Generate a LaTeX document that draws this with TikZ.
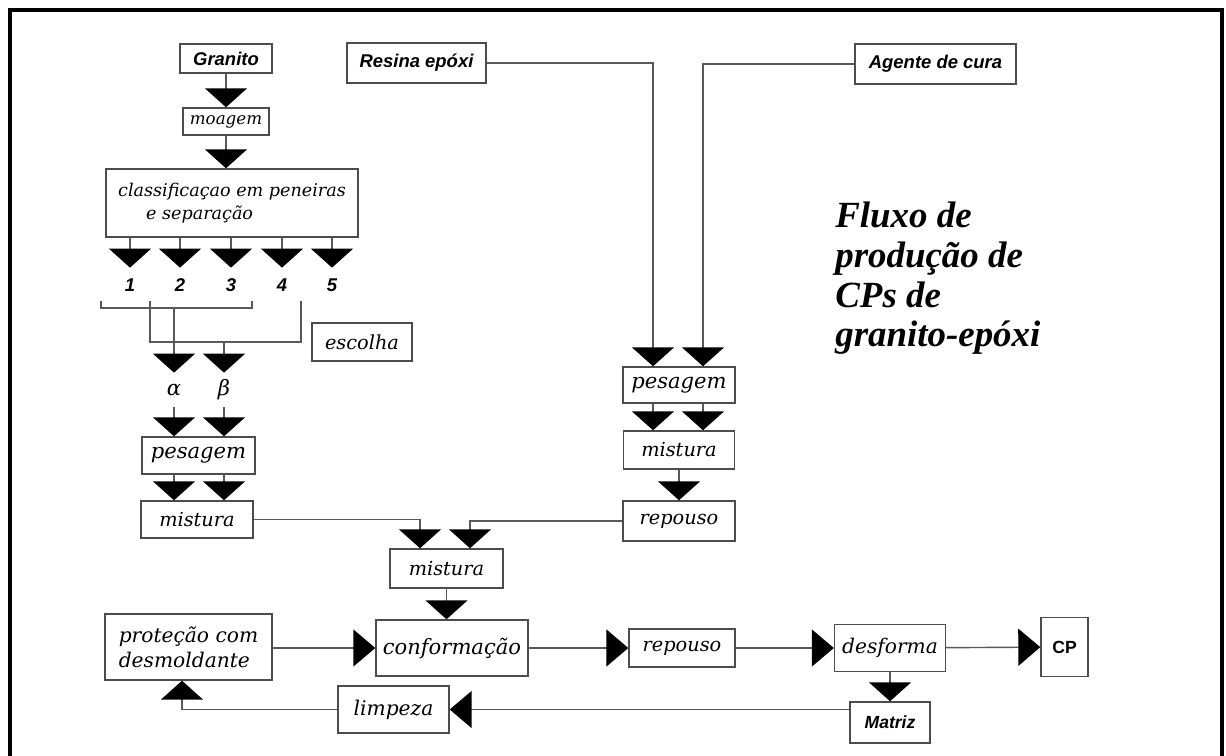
\documentclass[tikz,border=0pt]{standalone}
\usepackage{fontspec}
\usetikzlibrary{arrows.meta}
\newfontfamily\dvserif{DejaVu Serif}
\newfontfamily\arialf{Liberation Sans}
\newfontfamily\tmsfont{Liberation Serif}

\begin{document}
\begin{tikzpicture}[x=0.02cm, y=-0.02cm,
  box/.style={draw=black!70, line width=0.8pt, fill=white, inner sep=1pt, font=\dvserif\itshape\fontsize{11}{13}\selectfont},
  srcbox/.style={box, font=\arialf\bfseries\itshape\fontsize{10.5}{12}\selectfont},
  lbl/.style={inner sep=0pt, minimum height=0.68cm},
  wire/.style={draw=black!65, line width=0.8pt},
  va/.style={wire, -{Triangle[width=0.84cm, length=0.38cm, color=black]}},
  ha/.style={wire, -{Triangle[width=0.74cm, length=0.44cm, color=black]}}]
  \useasboundingbox (0,0) rectangle (1226,756);
  \draw[line width=2.3pt] (10,756) -- (10,10) -- (1222,10) -- (1222,756);
  % granito branch
  \node[srcbox, minimum width=1.84cm, minimum height=0.58cm] (gran) at (226,58.5) {Granito};
  \node[box, minimum width=1.72cm, minimum height=0.54cm, font=\dvserif\itshape\fontsize{9.5}{11}\selectfont] (moag) at (226,121.5) {moagem};
  \node[box, minimum width=5.04cm, minimum height=1.36cm, align=left, font=\dvserif\itshape\fontsize{10}{13}\selectfont] (class) at (232,203) {classificaçao em peneiras\\\hspace*{0.56cm}e separação};
  \draw[va] (gran) -- (moag); \draw[va] (moag) -- (moag |- class.north);
  \foreach \i/\x in {1/130,2/180,3/231,4/282,5/332} {
    \node[lbl, font=\arialf\bfseries\itshape\fontsize{10.5}{12}\selectfont] (n\i) at (\x,285) {\i};
    \draw[va] (class.south -| n\i) -- (n\i);
  }
  \draw[wire] (101,301) |- (252,308) -- (252,301); \draw[wire] (150,301) |- (301,342) -- (301,301);
  \coordinate (ba) at (174,308); \coordinate (bb) at (224,342);
  \node[box, minimum width=2cm, minimum height=0.76cm] (esc) at (362,342) {escolha};
  \node[lbl, font=\dvserif\itshape\fontsize{12}{14}\selectfont] (alpha) at (174,390) {α};
  \node[lbl, font=\dvserif\itshape\fontsize{12}{14}\selectfont] (beta) at (224,390) {β};
  \draw[va] (ba) -- (alpha); \draw[va] (bb) -- (beta);
  \node[box, minimum width=2.26cm, minimum height=0.74cm, font=\dvserif\itshape\fontsize{12}{14}\selectfont] (pesL) at (198.5,455.5) {pesagem};
  \node[box, minimum width=2.24cm, minimum height=0.74cm] (misL) at (197,519.5) {mistura};
  \draw[va] (alpha) -- (alpha |- pesL.north); \draw[va] (beta) -- (beta |- pesL.north);
  \draw[va] (pesL.south -| alpha) -- (misL.north -| alpha); \draw[va] (pesL.south -| beta) -- (misL.north -| beta);
  % resina branch
  \node[srcbox, minimum width=2.78cm, minimum height=0.8cm] (resina) at (416.5,63) {Resina epóxi};
  \node[srcbox, minimum width=3.22cm, minimum height=0.8cm] (agente) at (935.5,64) {Agente de cura};
  \node[box, minimum width=2.24cm, minimum height=0.72cm, font=\dvserif\itshape\fontsize{12}{14}\selectfont] (pesR) at (679,385) {pesagem};
  \node[box, minimum width=2.22cm, minimum height=0.76cm] (misR) at (679,450) {mistura};
  \node[box, minimum width=2.24cm, minimum height=0.8cm] (repR) at (679,521) {repouso};
  \draw[va] (resina.east) -| ([xshift=-0.52cm]pesR.north); \draw[va] (agente.west) -| ([xshift=0.48cm]pesR.north);
  \draw[va] ([xshift=-0.52cm]pesR.south) -- ([xshift=-0.52cm]misR.north); \draw[va] ([xshift=0.48cm]pesR.south) -- ([xshift=0.48cm]misR.north);
  \draw[va] (misR) -- (repR);
  % final line
  \node[box, minimum width=2.26cm, minimum height=0.78cm] (misC) at (446.5,568.5) {mistura};
  \draw[va] (misL.east) -| ([xshift=-0.53cm]misC.north); \draw[va] (repR.west) -| ([xshift=0.47cm]misC.north);
  \node[box, minimum width=3.04cm, minimum height=1.12cm, font=\dvserif\itshape\fontsize{12}{14}\selectfont] (conf) at (452,648) {conformação};
  \node[box, minimum width=3.34cm, minimum height=1.32cm, align=left, font=\dvserif\itshape\fontsize{11.5}{14}\selectfont] (prot) at (188.5,647) {proteção com\\desmoldante};
  \node[box, minimum width=2.12cm, minimum height=0.76cm] (repB) at (682,648) {repouso};
  \node[box, minimum width=2.22cm, minimum height=0.94cm, font=\dvserif\itshape\fontsize{11.5}{14}\selectfont] (desf) at (890,648) {desforma};
  \node[box, minimum width=0.94cm, minimum height=1.18cm, font=\arialf\bfseries\fontsize{10}{12}\selectfont] (cp) at (1064.5,647) {CP};
  \node[srcbox, minimum width=1.6cm, minimum height=0.82cm, font=\arialf\bfseries\itshape\fontsize{10}{12}\selectfont] (matriz) at (890,722.5) {Matriz};
  \node[box, minimum width=2.22cm, minimum height=0.94cm, font=\dvserif\itshape\fontsize{11.5}{14}\selectfont] (limp) at (393.5,709.5) {limpeza};
  \draw[va] (misC) -- (misC |- conf.north);
  \draw[ha] (prot.east |- conf) -- (conf.west); \draw[ha] (conf) -- (repB); \draw[ha] (repB) -- (desf); \draw[ha] (desf) -- (cp);
  \draw[va] (desf) -- (matriz);
  \draw[ha] (matriz.west |- limp) -- (limp.east);
  \draw[va] (limp.west) -| ([xshift=-0.13cm]prot.south);
  % title
  \node[anchor=north west, align=left, inner sep=0pt, font=\tmsfont\bfseries\itshape\fontsize{21}{22.5}\selectfont] (title) at (835,202) {Fluxo de\\produção de\\CPs de\\granito-epóxi};
\end{tikzpicture}
\end{document}
